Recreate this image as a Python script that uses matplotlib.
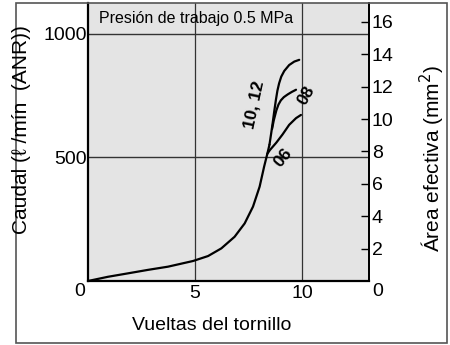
import matplotlib
matplotlib.use("Agg")
import matplotlib.pyplot as plt
from matplotlib.patches import Rectangle

plt.rcParams['font.family'] = ['Liberation Sans', 'DejaVu Sans']

# ---- data ----
main_x = [0, 0.93, 1.87, 2.80, 3.74, 4.91, 5.61, 6.23, 6.85, 7.32, 7.71, 8.02, 8.23, 8.38, 8.48]
main_y = [0, 17, 31, 45, 58, 81, 101, 132, 179, 233, 301, 382, 463, 515, 552]

b1012_x = [8.48, 8.56, 8.63, 8.70, 8.78, 8.85, 8.93, 9.03, 9.17, 9.40, 9.64, 9.87]
b1012_y = [552, 598, 640, 685, 733, 770, 800, 827, 850, 874, 888, 895]

b08_x = [8.60, 8.68, 8.80, 8.90, 9.01, 9.15, 9.33, 9.52, 9.72]
b08_y = [615, 650, 690, 714, 731, 744, 755, 765, 774]

b06_x = [8.38, 8.50, 8.65, 8.80, 9.09, 9.40, 9.72, 9.95]
b06_y = [515, 530, 545, 560, 593, 632, 659, 672]

x_ticks = [5, 10]
left_ticks = [500, 1000]
right_ticks = [2, 4, 6, 8, 10, 12, 14, 16]

title = "Presión de trabajo 0.5 MPa"
xlabel = "Vueltas del tornillo"
ylabel_left = "Caudal (\u2113 /mín  (ANR))"
ylabel_right = "Área efectiva (mm$^2$)"

# ---- figure ----
fig = plt.figure(figsize=(4.5, 3.45), dpi=100)
W, H = 450, 345

def fx(px):
    return px / W

def fy(py):
    return 1 - py / H

# outer frame
fig.patches.append(Rectangle((fx(16), fy(343)), fx(447) - fx(16), fy(3) - fy(343),
                             transform=fig.transFigure, fill=False,
                             edgecolor='#555555', linewidth=1.2))

ax = fig.add_axes([fx(88), fy(281), fx(369) - fx(88), fy(3) - fy(281)])
ax.set_facecolor('#e4e4e4')
ax.set_xlim(0, 13.13)
ax.set_ylim(0, 1125)

ax.spines['top'].set_visible(False)
ax.spines['left'].set_linewidth(1.6)
ax.spines['bottom'].set_linewidth(1.6)
ax.spines['right'].set_linewidth(1.3)

# grid lines
for xv in x_ticks:
    ax.axvline(xv, color='#333333', linewidth=0.9, zorder=1)
for yv in left_ticks:
    ax.axhline(yv, color='#333333', linewidth=1.0, zorder=1)

# curves
kw = dict(color='black', linewidth=1.6, solid_capstyle='round',
          solid_joinstyle='round', zorder=3)
ax.plot(main_x, main_y, **kw)
ax.plot(b1012_x, b1012_y, **kw)
ax.plot(b08_x, b08_y, **kw)
ax.plot(b06_x, b06_y, **kw)

# curve labels
ax.text(7.78, 712, "10, 12", rotation=78, ha='center', va='center',
        fontsize=12.5, fontweight='bold')
ax.text(10.22, 752, "08", rotation=60, ha='center', va='center',
        fontsize=12.5, fontweight='bold')
ax.text(9.13, 497, "06", rotation=50, ha='center', va='center',
        fontsize=12.5, fontweight='bold')

# title in header band
ax.text(5.05, 1062, title, ha='center', va='center', fontsize=11.5)

# ticks
ax.set_xticks(x_ticks)
ax.set_xticklabels([str(v) for v in x_ticks], fontsize=14)
ax.tick_params(axis='x', length=0, pad=3)
ax.set_yticks(left_ticks)
ax.set_yticklabels([str(v) for v in left_ticks], fontsize=14)
ax.tick_params(axis='y', length=0, pad=1)

# zero labels (offset below the corners)
fig.text(fx(80), fy(292), "0", ha='center', va='center', fontsize=14)
fig.text(fx(378), fy(292), "0", ha='center', va='center', fontsize=14)

ax2 = ax.twinx()
ax2.set_ylim(0, 17.17)
ax2.set_yticks(right_ticks)
ax2.set_yticklabels([str(v) for v in right_ticks], fontsize=14)
ax2.tick_params(axis='y', direction='in', length=6, width=1.0, pad=2)
for s in ['top', 'left', 'bottom']:
    ax2.spines[s].set_visible(False)
ax2.spines['right'].set_linewidth(1.3)

# axis labels
fig.text(fx(22), fy(130), ylabel_left, rotation=90, ha='center', va='center', fontsize=15)
fig.text(fx(432), fy(158), ylabel_right, rotation=90, ha='center', va='center', fontsize=15)
fig.text(fx(212), fy(326), xlabel, ha='center', va='center', fontsize=14)

fig.savefig("out.png", dpi=100)
